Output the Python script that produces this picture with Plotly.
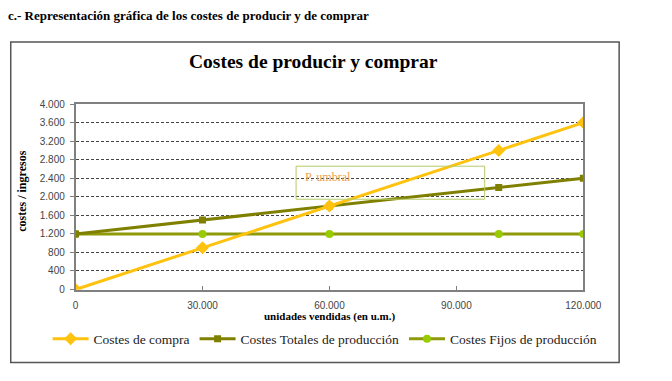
import plotly.graph_objects as go

W, H = 672, 381

unidades = [0, 30000, 60000, 100000, 120000]
costes_compra = [0, 900, 1800, 3000, 3600]
costes_totales = [1200, 1500, 1800, 2200, 2400]
costes_fijos = [1200, 1200, 1200, 1200, 1200]
x_ticks = [0, 30000, 60000, 90000, 120000]
y_ticks = list(range(0, 4001, 400))

def px(x):
    return x / W

def py(y):
    return 1 - y / H

serif = "Liberation Serif"
sans = "Liberation Sans"

fig = go.Figure()
fig.add_trace(go.Scatter(
    x=unidades, y=costes_fijos, name="Costes Fijos de producción",
    mode="lines+markers",
    line=dict(color="#8E9A08", width=3),
    marker=dict(symbol="circle", size=8, color="#99CC00"),
))
fig.add_trace(go.Scatter(
    x=unidades, y=costes_totales, name="Costes Totales de producción",
    mode="lines+markers",
    line=dict(color="#808000", width=3),
    marker=dict(symbol="square", size=7, color="#808000"),
))
fig.add_trace(go.Scatter(
    x=unidades, y=costes_compra, name="Costes de compra",
    mode="lines+markers",
    line=dict(color="#FFC20E", width=3),
    marker=dict(symbol="diamond", size=10, color="#FFC20E"),
))

fig.update_layout(
    width=W, height=H,
    margin=dict(l=0, r=0, t=0, b=0),
    paper_bgcolor="white", plot_bgcolor="white",
    separators=",.",
    showlegend=True,
    legend=dict(
        orientation="h", x=px(333), y=py(344), xanchor="center", yanchor="middle",
        font=dict(family=serif, size=13.5, color="#222"),
        traceorder="reversed", itemwidth=36, tracegroupgap=0,
        bgcolor="rgba(0,0,0,0)",
    ),
    xaxis=dict(
        domain=[px(75), px(600)], range=[0, 120000],
        tickvals=x_ticks, tickformat=",d",
        tickfont=dict(family=sans, size=10, color="#444"),
        showgrid=False, zeroline=False,
        showline=True, linecolor="#808080", linewidth=1.5, mirror=True,
        ticks="inside", ticklen=4, tickcolor="#808080",
        ticklabelstandoff=6,
    ),
    yaxis=dict(
        domain=[py(293), py(102)], range=[0, 4000],
        tickvals=y_ticks, tickformat=",d",
        tickfont=dict(family=sans, size=10, color="#444"),
        showgrid=True, gridcolor="#444", griddash="3px,2px", gridwidth=1,
        zeroline=False,
        showline=True, linecolor="#808080", linewidth=1.5, mirror=True,
        ticks="outside", ticklen=4, tickcolor="#808080",
        ticklabelstandoff=3,
    ),
)

# outer chart frame
fig.add_shape(type="rect", xref="paper", yref="paper",
              x0=px(8), x1=px(637), y0=py(368), y1=py(38),
              line=dict(color="#555", width=1.5), fillcolor="rgba(0,0,0,0)", layer="below")
# threshold box
fig.add_shape(type="rect", xref="paper", yref="paper",
              x0=px(303), x1=px(498), y0=py(200), y1=py(166),
              line=dict(color="#B5CC66", width=1), fillcolor="rgba(0,0,0,0)")

fig.add_annotation(text="<b>c.- Representación gráfica de los costes de producir y de comprar</b>",
                   xref="paper", yref="paper", x=px(3), y=py(11), xanchor="left", yanchor="middle",
                   showarrow=False, font=dict(family=serif, size=13, color="black"))
fig.add_annotation(text="<b>Costes de producir y comprar</b>",
                   xref="paper", yref="paper", x=px(321), y=py(58), xanchor="center", yanchor="middle",
                   showarrow=False, font=dict(family=serif, size=19.5, color="black"))
fig.add_annotation(text="<b>costes / ingresos</b>",
                   xref="paper", yref="paper", x=px(20), y=py(192), xanchor="center", yanchor="middle",
                   textangle=-90, showarrow=False, font=dict(family=serif, size=12, color="black"))
fig.add_annotation(text="<b>unidades vendidas (en u.m.)</b>",
                   xref="paper", yref="paper", x=px(338), y=py(321), xanchor="center", yanchor="middle",
                   showarrow=False, font=dict(family=serif, size=11, color="black"))
fig.add_annotation(text="P. umbral",
                   xref="paper", yref="paper", x=px(310), y=py(177), xanchor="left", yanchor="middle",
                   showarrow=False, font=dict(family=serif, size=12, color="#F0A050"))

fig.write_html("out.html", config={"displayModeBar": False},
               post_script="document.body.style.margin='0';document.body.style.overflow='hidden';")
